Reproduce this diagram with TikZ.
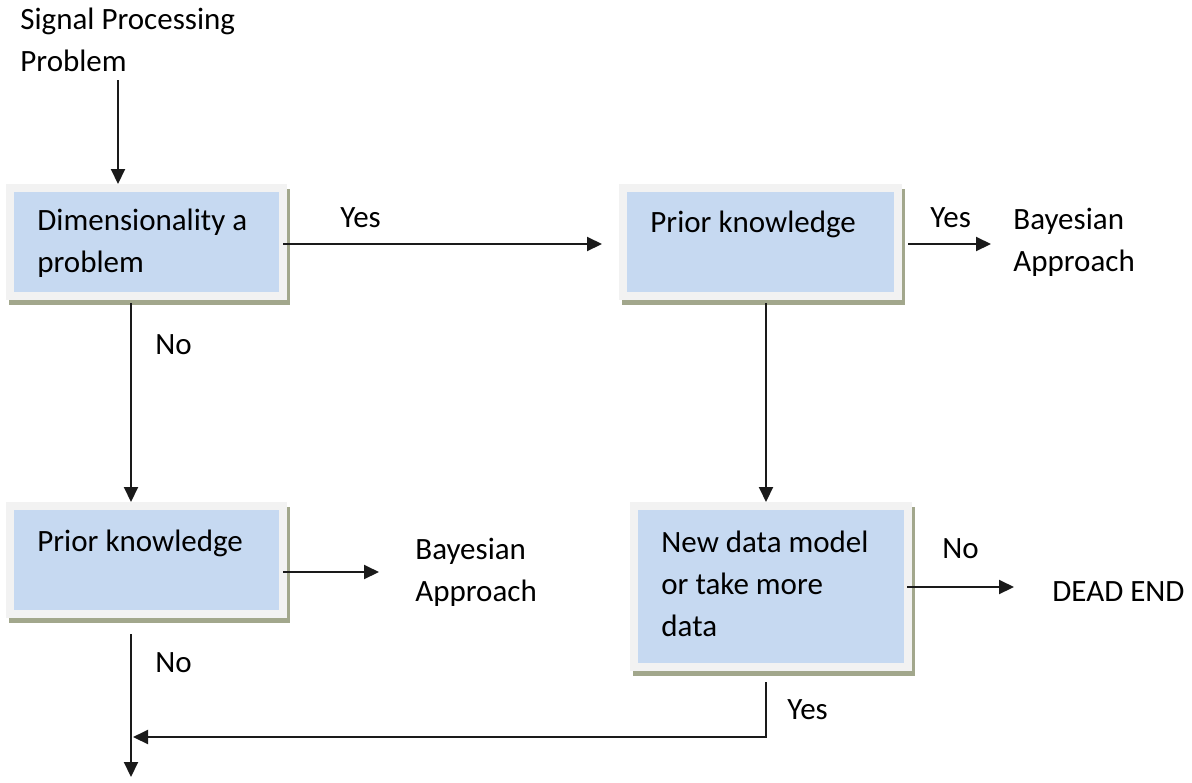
\documentclass[tikz,border=0pt]{standalone}
\usepackage{fontspec}
\setmainfont{Carlito}
\usetikzlibrary{arrows.meta}
\definecolor{boxblue}{HTML}{C6D9F1}
\definecolor{boxframe}{HTML}{F2F2F2}
\definecolor{boxshadow}{HTML}{A2A78C}
\definecolor{linecol}{HTML}{1A1A1A}
\tikzset{
  flowbox/.style={rectangle, fill=boxblue, draw=boxframe, line width=4pt, inner sep=0pt,
    preaction={draw=boxshadow, fill=boxshadow, line width=4pt, transform canvas={shift={(1.5pt,-2.5pt)}}}},
  txt/.style={anchor=base west, align=left, inner sep=3pt, font=\fontsize{15.5pt}{21pt}\selectfont, text=black},
  arr/.style={draw=linecol, line width=1pt, -{Triangle[length=7.5pt,width=7pt]}},
  ln/.style={draw=linecol, line width=1pt}
}
\begin{document}
\begin{tikzpicture}[x=0.5pt,y=-0.5pt]
\useasboundingbox (0,0) rectangle (1192,782);
% boxes (anchor at the outer edge of the frame)
\node[flowbox, minimum width=136.5pt, minimum height=54pt, anchor=north west] (b1) at (6,184) {};
\node[flowbox, minimum width=137.5pt, minimum height=54pt, anchor=north west] (b2) at (619,184) {};
\node[flowbox, minimum width=136.5pt, minimum height=54pt, anchor=north west] (b4) at (6,502) {};
\node[flowbox, minimum width=137pt, minimum height=80.5pt, anchor=north west] (b3) at (630,502) {};
% texts (base = baseline of the last line)
\node[txt] (sig) at (14,71) {Signal Processing\\Problem};
\node[txt] (t1) at (31,272) {Dimensionality a\\problem};
\node[txt] (t2) at (644,232) {Prior knowledge};
\node[txt] (t4) at (31,551) {Prior knowledge};
\node[txt] (t3) at (655,636) {New data model\\or take more\\data};
\node[txt] (yes1) at (334,227) {Yes};
\node[txt] (yes2) at (924,227) {Yes};
\node[txt] (bay1) at (1007,271) {Bayesian\\Approach};
\node[txt] (bay2) at (409,601) {Bayesian\\Approach};
\node[txt] (no1) at (149,354) {No};
\node[txt] (no2) at (149,672) {No};
\node[txt] (no3) at (936,558) {No};
\node[txt] (dead) at (1046,601) {DEAD END};
\node[txt] (yes3) at (781,719) {Yes};
% columns
\coordinate (cL) at (131,0);
\coordinate (cR) at (766,0);
\coordinate (fin) at (131,777);
% connectors
\draw[arr] (118,80) -- (b1.north -| 118,0);
\draw[arr] ([xshift=-2pt]b1.east |- 0,244) -- ([xshift=-8.5pt]b2.west |- 0,244);
\draw[arr] ([xshift=3pt]b2.east |- 0,244) -- ([xshift=-8pt]bay1.west |- 0,244);
\draw[arr] ([yshift=-1.5pt]b1.south -| cL) -- (b4.north -| cL);
\draw[arr] ([yshift=-1.5pt]b2.south -| cR) -- (b3.north -| cR);
\draw[arr] ([xshift=-2pt]b4.east |- 0,572) -- ([xshift=-15pt]bay2.west |- 0,572);
\draw[arr] ([xshift=-2.5pt]b3.east |- 0,587) -- ([xshift=-16pt]dead.west |- 0,587);
\draw[arr] ([yshift=-8pt]b4.south -| cL) -- (fin);
\draw[arr] ([yshift=-5.5pt]b3.south -| cR) -- (cR |- 0,737) -- ([xshift=1pt]cL |- 0,737);
\end{tikzpicture}
\end{document}
